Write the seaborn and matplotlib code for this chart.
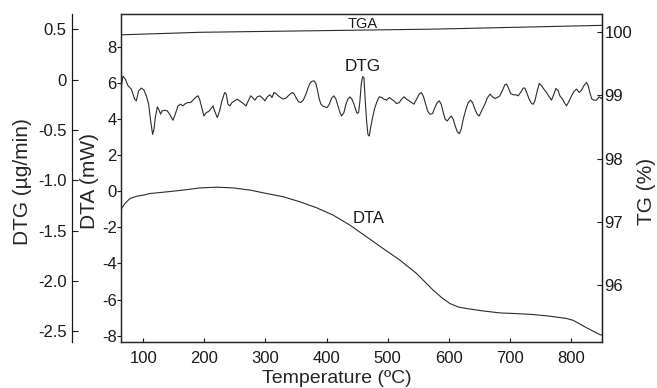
import numpy as np
import pandas as pd
import matplotlib
matplotlib.use("Agg")
import matplotlib.pyplot as plt
import seaborn as sns

# ---------------- data ----------------
# DTA curve (mW) vs temperature
dta_temp = [63.5, 70.0, 78.2, 89.2, 100, 111, 138, 165.5, 192.8, 220.1, 247.3, 274.6,
            302, 329.1, 356.6, 383.8, 411, 438.3, 465.6, 492.8, 520.3, 547.5, 574.6,
            588.4, 602, 615.5, 629.3, 656, 683.8, 711, 738.3, 765, 793,
            803.8, 825, 847.4, 852]
dta_val = [-1.01, -0.68, -0.41, -0.28, -0.22, -0.13, -0.04, 0.06, 0.18, 0.22, 0.18,
           0.06, -0.13, -0.31, -0.59, -0.92, -1.33, -1.88, -2.53, -3.18, -3.82,
           -4.56, -5.48, -5.89, -6.22, -6.41, -6.50, -6.63, -6.74, -6.78, -6.83,
           -6.92, -7.05, -7.15, -7.55, -7.94, -7.98]

# TG curve (%) vs temperature
tg_temp = [63.5, 193, 575, 852]
tg_val = [99.96, 100.00, 100.05, 100.11]

# DTG curve (ug/min) vs temperature
dtg_temp = [63.6, 63.8, 64.5, 66.8, 70.6, 75.0, 80.4, 85.9, 88.6, 92.4, 96.8, 101.1,
            105.0, 108.8, 112.1, 115.3, 117.5, 119.7, 123.0, 125.2, 128.4, 130.6,
            135.0, 139.3, 143.2, 148.6, 152.4, 156.8, 161.2, 165.0, 168.8, 173.2,
            177.5, 181.3, 186.8, 189.5, 192.2, 195.0, 199.3, 203.2, 207.0, 210.2,
            214.1, 216.8, 221.2, 225.0, 228.8, 233.2, 235.9, 238.6, 241.9, 245.2,
            249.5, 253.9, 257.7, 263.8, 268.1, 271.9, 275.8, 279.0, 282.8, 286.7,
            291.0, 295.4, 299.2, 303.0, 307.4, 310.7, 313.9, 317.2, 321.0, 324.8,
            329.2, 333.6, 337.4, 341.2, 344.5, 347.2, 350.0, 353.8, 357.6, 362.0,
            366.3, 370.1, 372.9, 375.6, 379.4, 382.7, 385.4, 388.1, 390.9, 393.6,
            397.4, 401.2, 404.5, 408.3, 412.1, 415.4, 418.7, 422.0, 424.7, 428.5,
            431.8, 435.0, 438.3, 441.6, 444.9, 448.1, 450.3, 452.5, 454.7, 456.9,
            459.0, 461.2, 463.4, 465.6, 467.8, 470.0, 472.2, 475.4, 479.2, 483.1,
            486.3, 490.2, 494.0, 498.3, 502.7, 506.5, 510.3, 514.7, 519.1, 522.9,
            526.7, 531.1, 535.4, 539.3, 543.1, 547.4, 551.8, 555.1, 558.3, 561.6,
            565.4, 569.3, 573.6, 577.4, 581.3, 584.5, 587.8, 591.1, 594.3, 597.6,
            600.9, 604.2, 607.4, 610.7, 614.0, 617.3, 620.5, 623.8, 628.2, 632.0,
            635.8, 639.1, 642.9, 646.7, 650.0, 653.8, 659.3, 663.1, 667.5, 671.8,
            675.6, 679.5, 683.8, 688.2, 692.0, 694.7, 697.5, 701.3, 705.7, 710.0,
            713.8, 717.7, 722.0, 724.7, 727.5, 731.8, 735.7, 738.4, 741.1, 745.0,
            748.2, 752.0, 755.8, 760.2, 764.6, 768.4, 772.2, 775.5, 779.3, 782.0,
            786.4, 790.2, 792.9, 797.3, 801.1, 804.9, 809.3, 813.7, 817.5, 821.3,
            825.7, 828.4, 831.1, 834.4, 837.7, 842.0, 846.4, 849.7, 854.0]
dtg_val = [0.16, -0.15, -0.05, 0.035, 0.005, -0.061, -0.094, -0.194, -0.211, -0.111,
           -0.084, -0.104, -0.161, -0.244, -0.411, -0.544, -0.494, -0.377, -0.271,
           -0.294, -0.344, -0.311, -0.304, -0.311, -0.344, -0.404, -0.344, -0.261,
           -0.244, -0.261, -0.238, -0.228, -0.228, -0.204, -0.171, -0.161, -0.194,
           -0.261, -0.361, -0.327, -0.317, -0.294, -0.261, -0.311, -0.377, -0.311,
           -0.211, -0.128, -0.144, -0.244, -0.261, -0.228, -0.211, -0.194, -0.211,
           -0.238, -0.261, -0.211, -0.161, -0.178, -0.204, -0.171, -0.161, -0.184,
           -0.211, -0.171, -0.151, -0.178, -0.128, -0.138, -0.161, -0.178, -0.194,
           -0.184, -0.161, -0.138, -0.128, -0.144, -0.178, -0.218, -0.228, -0.204,
           -0.144, -0.078, -0.038, -0.018, -0.011, -0.038, -0.111, -0.194, -0.244,
           -0.261, -0.271, -0.277, -0.244, -0.184, -0.161, -0.194, -0.261, -0.327,
           -0.361, -0.327, -0.244, -0.194, -0.171, -0.194, -0.244, -0.304, -0.337,
           -0.327, -0.211, -0.044, 0.029, 0.022, -0.211, -0.411, -0.544, -0.561,
           -0.477, -0.377, -0.277, -0.211, -0.171, -0.178, -0.194, -0.204, -0.178,
           -0.194, -0.211, -0.238, -0.228, -0.194, -0.171, -0.194, -0.211, -0.228,
           -0.244, -0.194, -0.144, -0.128, -0.161, -0.228, -0.311, -0.344, -0.337,
           -0.277, -0.228, -0.211, -0.244, -0.327, -0.394, -0.411, -0.384, -0.361,
           -0.394, -0.461, -0.517, -0.537, -0.494, -0.394, -0.294, -0.228, -0.204,
           -0.228, -0.294, -0.344, -0.361, -0.311, -0.244, -0.184, -0.144, -0.171,
           -0.188, -0.178, -0.161, -0.104, -0.051, -0.044, -0.078, -0.138, -0.151,
           -0.151, -0.161, -0.128, -0.084, -0.084, -0.128, -0.194, -0.238, -0.244,
           -0.211, -0.111, -0.038, -0.061, -0.094, -0.128, -0.171, -0.204, -0.144,
           -0.088, -0.111, -0.161, -0.194, -0.238, -0.261, -0.211, -0.161, -0.118,
           -0.094, -0.128, -0.104, -0.061, -0.028, -0.061, -0.128, -0.194, -0.204,
           -0.204, -0.171, -0.188, -0.161]

x_ticks = [100, 200, 300, 400, 500, 600, 700, 800]
x_tick_labels = ["100", "200", "300", "400", "500", "600", "700", "800"]
dta_ticks = [-8, -6, -4, -2, 0, 2, 4, 6, 8]
dta_tick_labels = ["-8", "-6", "-4", "-2", "0", "2", "4", "6", "8"]
dtg_ticks = [0.5, 0.0, -0.5, -1.0, -1.5, -2.0, -2.5]
dtg_tick_labels = ["0.5", "0", "-0.5", "-1.0", "-1.5", "-2.0", "-2.5"]
tg_ticks = [96, 97, 98, 99, 100]
tg_tick_labels = ["96", "97", "98", "99", "100"]

# ---------------- style ----------------
sns.set_style("ticks")
plt.rcParams["font.family"] = ["Liberation Sans", "DejaVu Sans"]
plt.rcParams["axes.unicode_minus"] = False
plt.rcParams["axes.linewidth"] = 0.9

line_color = "#2b2b2b"
spine_color = "#1a1a1a"

fig = plt.figure(figsize=(6.57, 3.88), dpi=100)
ax = fig.add_axes([0.1846, 0.1186, 0.7317, 0.8454])
ax_tg = ax.twinx()
ax_dtg = ax.twinx()

df_dta = pd.DataFrame({"T": dta_temp, "DTA": dta_val})
df_tg = pd.DataFrame({"T": tg_temp, "TG": tg_val})
df_dtg = pd.DataFrame({"T": dtg_temp, "DTG": dtg_val})

sns.lineplot(data=df_dta, x="T", y="DTA", ax=ax, color=line_color, linewidth=0.8,
             sort=False, estimator=None)
sns.lineplot(data=df_tg, x="T", y="TG", ax=ax_tg, color=line_color, linewidth=0.8,
             sort=False, estimator=None)
sns.lineplot(data=df_dtg, x="T", y="DTG", ax=ax_dtg, color=line_color, linewidth=0.8,
             sort=False, estimator=None)

# limits
ax.set_xlim(64, 851)
ax.set_ylim(-8.35, 9.81)
ax_tg.set_ylim(95.10, 100.29)
ax_dtg.set_ylim(-2.606, 0.652)

# main axis (DTA)
ax.set_xticks(x_ticks, labels=x_tick_labels)
ax.set_yticks(dta_ticks, labels=dta_tick_labels)
ax.tick_params(axis="x", direction="in", length=3, width=0.8, pad=6.5,
               labelsize=12, colors=spine_color)
ax.tick_params(axis="y", direction="out", length=2.7, width=0.8, pad=0.6,
               labelsize=12, colors=spine_color)
ax.set_xlabel("Temperature (ºC)", fontsize=14)
ax.set_ylabel("DTA (mW)", fontsize=15)
ax.xaxis.set_label_coords(0.449, -0.085)
ax.yaxis.set_label_coords(-0.046, 0.49)
for s in ax.spines.values():
    s.set_color(spine_color)

# TG axis (right)
ax_tg.set_yticks(tg_ticks, labels=tg_tick_labels)
ax_tg.tick_params(axis="y", direction="in", length=3.6, width=0.8, pad=1.8,
                  labelsize=12, colors=spine_color)
ax_tg.set_ylabel("TG (%)", fontsize=15)
ax_tg.yaxis.set_label_coords(1.072, 0.46)
ax_tg.spines["right"].set_color(spine_color)

# DTG axis (outer left)
ax_dtg.yaxis.tick_left()
ax_dtg.yaxis.set_label_position("left")
ax_dtg.spines["left"].set_position(("axes", -0.1019))
ax_dtg.spines["left"].set_visible(True)
for side in ("right", "top", "bottom"):
    ax_dtg.spines[side].set_visible(False)
ax_dtg.spines["left"].set_color(spine_color)
ax_dtg.set_yticks(dtg_ticks, labels=dtg_tick_labels)
ax_dtg.tick_params(axis="y", direction="in", length=4.3, width=0.8, pad=4,
                   labelsize=12, colors=spine_color)
ax_dtg.set_ylabel("DTG (µg/min)", fontsize=15)
ax_dtg.yaxis.set_label_coords(-0.185, 0.49)
ax_tg.set_xlabel("")
ax_dtg.set_xlabel("")

# curve annotations
ax.text(459.6, 9.26, "TGA", fontsize=10.5, ha="center", va="center", color=spine_color)
ax.text(460, 6.88, "DTG", fontsize=12.3, ha="center", va="center", color=spine_color)
ax.text(469.4, -1.50, "DTA", fontsize=12, ha="center", va="center", color=spine_color)

fig.savefig("out.png", dpi=100)
